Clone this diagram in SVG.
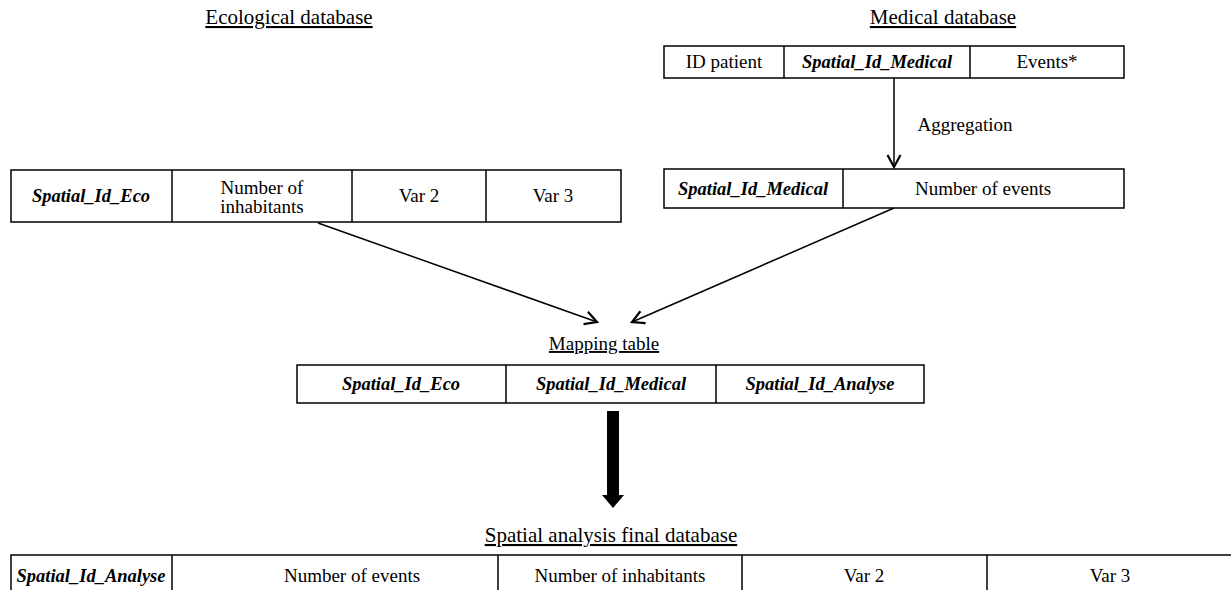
<svg xmlns="http://www.w3.org/2000/svg" width="1231" height="590" viewBox="0 0 1231 590" font-family="'Liberation Serif', Tinos, 'Times New Roman', 'DejaVu Serif', serif">
<style>
text{font-family:'Liberation Serif', Tinos, 'Times New Roman', 'DejaVu Serif', serif;fill:#000;text-anchor:middle}
.t{font-size:19px}
.k{font-size:18.5px;font-weight:bold;font-style:italic}
.h{font-size:21px;text-decoration:underline}
.hm{font-size:19px;text-decoration:underline}
.box{fill:#fff;stroke:#000;stroke-width:1.5}
.sep{stroke:#000;stroke-width:1.5}
.con{stroke:#000;stroke-width:1.5;fill:none}
</style>
<defs>
<marker id="ah" markerWidth="16" markerHeight="16" refX="13" refY="8" orient="auto" markerUnits="userSpaceOnUse">
<path d="M1,1.5 L13,8 L1,14.5" fill="none" stroke="#000" stroke-width="2.2"/>
</marker>
</defs>
<rect width="1231" height="590" fill="#fff"/>

<g id="eco-title"><text class="h" x="289" y="24">Ecological database</text></g>
<g id="med-title"><text class="h" x="943" y="24">Medical database</text></g>

<g id="eco-table">
<rect class="box" x="11" y="170" width="610" height="52"/>
<line class="sep" x1="172" y1="170" x2="172" y2="222"/>
<line class="sep" x1="352" y1="170" x2="352" y2="222"/>
<line class="sep" x1="486" y1="170" x2="486" y2="222"/>
<text class="k" x="91" y="202">Spatial_Id_Eco</text>
<text class="t" x="262" y="194">Number of</text>
<text class="t" x="262" y="213">inhabitants</text>
<text class="t" x="419" y="202">Var 2</text>
<text class="t" x="553" y="202">Var 3</text>
</g>

<g id="med-table">
<rect class="box" x="664" y="46" width="460" height="32"/>
<line class="sep" x1="784" y1="46" x2="784" y2="78"/>
<line class="sep" x1="970" y1="46" x2="970" y2="78"/>
<text class="t" x="724" y="68">ID patient</text>
<text class="k" x="877" y="68">Spatial_Id_Medical</text>
<text class="t" x="1047" y="68">Events*</text>
</g>

<g id="med-agg-table">
<rect class="box" x="664" y="169" width="460" height="39"/>
<line class="sep" x1="843" y1="169" x2="843" y2="208"/>
<text class="k" x="753" y="195">Spatial_Id_Medical</text>
<text class="t" x="983" y="195">Number of events</text>
</g>

<g id="map-title"><text class="hm" x="604" y="350">Mapping table</text></g>
<g id="map-table">
<rect class="box" x="297" y="365" width="627" height="38"/>
<line class="sep" x1="506" y1="365" x2="506" y2="403"/>
<line class="sep" x1="716" y1="365" x2="716" y2="403"/>
<text class="k" x="401" y="390">Spatial_Id_Eco</text>
<text class="k" x="611" y="390">Spatial_Id_Medical</text>
<text class="k" x="820" y="390">Spatial_Id_Analyse</text>
</g>

<g id="final-title"><text class="h" x="611" y="542">Spatial analysis final database</text></g>
<g id="final-table">
<rect class="box" x="11" y="555" width="1225" height="44"/>
<line class="sep" x1="172" y1="555" x2="172" y2="599"/>
<line class="sep" x1="498" y1="555" x2="498" y2="599"/>
<line class="sep" x1="742" y1="555" x2="742" y2="599"/>
<line class="sep" x1="987" y1="555" x2="987" y2="599"/>
<text class="k" x="91" y="582">Spatial_Id_Analyse</text>
<text class="t" x="352" y="582">Number of events</text>
<text class="t" x="620" y="582">Number of inhabitants</text>
<text class="t" x="864" y="582">Var 2</text>
<text class="t" x="1110" y="582">Var 3</text>
</g>

<g id="connectors">
<line class="con" x1="894" y1="78" x2="894" y2="167" marker-end="url(#ah)"/>
<text class="t" x="965" y="131">Aggregation</text>
<line class="con" x1="318" y1="223" x2="597" y2="322" marker-end="url(#ah)"/>
<line class="con" x1="894" y1="208" x2="632" y2="322" marker-end="url(#ah)"/>
<polygon points="607,411 619,411 619,495 624,495 613,508 602,495 607,495" fill="#000"/>
</g>
</svg>
